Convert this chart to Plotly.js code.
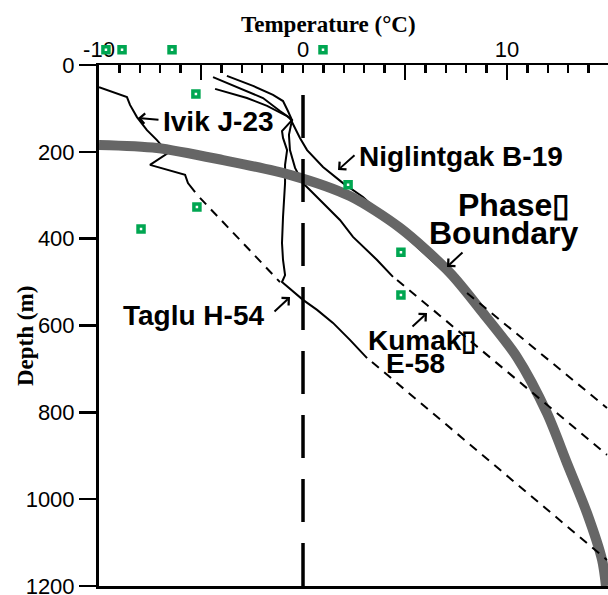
<!DOCTYPE html>
<html>
<head>
<meta charset="utf-8">
<script src="https://cdn.plot.ly/plotly-3.0.1.min.js"></script>
<style>html,body{margin:0;padding:0;background:#fff;}#chart{width:608px;height:595px;}</style>
</head>
<body>
<div id="chart"></div>
<script>
// ---------------- data (temperature °C, depth m) ----------------
const ivikT      = [-10.0, -8.63, -8.48, -8.14, -7.65, -7.16, -6.62, -7.50, -5.78, -5.64, -5.29];
const ivikD      = [51, 74, 92, 120, 150, 173, 203, 230, 253, 272, 293];
const ivikDashT  = [-5.05, -1.13];
const ivikDashD  = [306, 500];

const niglT      = [-4.41, -3.09, -1.96, -1.13, -0.64, -0.15, 0.20, 0.98, 1.96, 2.94, 8.04];
const niglD      = [28, 53, 76, 106, 122, 168, 196, 235, 272, 304, 525];
const niglDashT  = [8.04, 14.90];
const niglDashD  = [525, 790];

const kumakT     = [-3.73, -2.45, -1.47, -0.98, -0.74, -0.54, -0.69, -0.64, -0.39, 0.00, 0.34, 1.08, 1.81, 2.45, 3.63, 4.41];
const kumakD     = [25, 48, 69, 83, 106, 127, 161, 196, 237, 272, 288, 323, 357, 396, 449, 488];
const kumakDashT = [4.61, 14.90];
const kumakDashD = [495, 898];

const tagluT     = [-4.31, -2.75, -1.76, -0.78, -0.54, -1.03, -0.98, -0.78, -0.88, -0.88, -0.98, -1.03, -0.98, -0.88, -1.03, 0.00, 0.69, 1.47, 2.30, 3.14];
const tagluD     = [55, 76, 94, 118, 127, 152, 168, 196, 230, 272, 350, 410, 449, 484, 500, 541, 564, 594, 633, 675];
const tagluDashT = [3.38, 14.90];
const tagluDashD = [684, 1140];

const phaseT     = [-10, -7.16, -3.92, -0.64, 2.30, 4.75, 7.21, 8.82, 10.49, 11.96, 12.94, 13.92, 14.66, 14.85];
const phaseD     = [184, 191, 219, 253, 302, 375, 479, 571, 673, 802, 917, 1032, 1140, 1200];

const zeroT      = [0, 0];
const zeroD      = [69, 1200];

const sampleT    = [-9.66, -8.87, -6.42, 0.98, -5.25, -5.20, -7.94, 2.21, 4.80, 4.80];
const sampleD    = [-35, -35, -35, -35, 67, 327, 378, 276, 431, 530];

const xTickVals  = [-10,-9,-8,-7,-6,-5,-4,-3,-2,-1,0,1,2,3,4,5,6,7,8,9,10,11,12,13,14];
const xTickText  = xTickVals.map(v => (v === -10 || v === 0 || v === 10) ? String(v) : '');
const xMajorVals = [-5, 5, 10];
const yTickVals  = [0, 200, 400, 600, 800, 1000, 1200];

// ---------------- geometry & styling ----------------
const W = 608, H = 595, ML = 99, MR = 0, MT = 40, MB = 9;
const AXIS_TOP = 65;                       // pixel row of depth 0 / top axis
const PW = W - ML - MR, PH = H - MT - MB;  // full plotting box (includes strip above the axis)
const yDomTop = (H - MB - AXIS_TOP) / PH;  // fraction of box used by the depth axis
const mPerPx = 1200 / (H - MB - AXIS_TOP);
const y2Top = -(AXIS_TOP - MT) * mPerPx;   // depth value at the very top of the box
const PX = x => (x - ML) / PW;
const PY = y => 1 - (y - MT) / PH;
const sans = 'Liberation Sans, Arial, Helvetica, sans-serif';
const serif = 'Liberation Serif, Times New Roman, serif';
const dashed = '9px,7px';

const solid = (x, y) => ({x, y, type:'scatter', mode:'lines', line:{color:'#000', width:2}, hoverinfo:'skip', showlegend:false});
const dash  = (x, y) => ({x, y, type:'scatter', mode:'lines', line:{color:'#000', width:2, dash:dashed}, hoverinfo:'skip', showlegend:false});

const traces = [
  solid(ivikT, ivikD), solid(niglT, niglD), solid(kumakT, kumakD), solid(tagluT, tagluD),
  {x: phaseT, y: phaseD, type:'scatter', mode:'lines', line:{color:'#666666', width:10, shape:'spline', smoothing:0.8}, hoverinfo:'skip', showlegend:false},
  dash(ivikDashT, ivikDashD), dash(niglDashT, niglDashD), dash(kumakDashT, kumakDashD), dash(tagluDashT, tagluDashD),
  {x: zeroT, y: zeroD, type:'scatter', mode:'lines', line:{color:'#000', width:3.5, dash:'43px,21px'}, hoverinfo:'skip', showlegend:false},
  {x:[null], y:[null], xaxis:'x2', type:'scatter', mode:'lines', hoverinfo:'skip', showlegend:false},
  {x: sampleT, y: sampleD, yaxis:'y2', type:'scatter', mode:'markers', cliponaxis:false,
   marker:{symbol:'square', size:6, color:'#ffffff', line:{color:'#00a651', width:3.5}}, hoverinfo:'skip', showlegend:false}
];

const label = (text, x, y, size) => ({text, xref:'paper', yref:'paper', x:PX(x), y:PY(y), xanchor:'left', yanchor:'middle',
  showarrow:false, font:{family:sans, size, color:'#000', weight:'bold'}});
const arrow = (hx, hy, tx, ty) => ({text:'', xref:'paper', yref:'paper', x:PX(hx), y:PY(hy), ax:tx - hx, ay:ty - hy,
  showarrow:true, arrowhead:4, arrowsize:1, arrowwidth:2, arrowcolor:'#000'});

const annotations = [
  {text:'Temperature (°C)', xref:'paper', yref:'paper', x:PX(328), y:PY(24), xanchor:'center', yanchor:'middle', showarrow:false,
   font:{family:serif, size:23, color:'#000', weight:'bold'}},
  {text:'Depth (m)', xref:'paper', yref:'paper', x:PX(25), y:PY(336), xanchor:'center', yanchor:'middle', textangle:-90, showarrow:false,
   font:{family:serif, size:23, color:'#000', weight:'bold'}},
  label('Ivik J-23', 161, 121, 28),
  label('Niglintgak B-19', 357, 156, 28),
  label('Phase\u25AF', 456, 205, 32),
  label('Boundary', 427, 233, 32),
  label('Kumak\u25AF', 366, 340, 28),
  label('E-58', 384, 363, 28),
  label('Taglu H-54', 121, 315, 28),
  arrow(138, 118, 160, 120),
  arrow(338, 170, 356, 154),
  arrow(447, 267, 464, 251),
  arrow(427, 313, 411, 328),
  arrow(290, 297, 273, 313)
];

const layout = {
  width: W, height: H,
  margin: {l: ML, r: MR, t: MT, b: MB, pad: 0},
  paper_bgcolor: '#ffffff', plot_bgcolor: 'rgba(0,0,0,0)',
  showlegend: false,
  xaxis: {range: [-10, 14.95], side: 'top', anchor: 'y', showline: true, linewidth: 2.5, linecolor: '#000', mirror: true,
          ticks: 'inside', tickmode: 'array', tickvals: xTickVals, ticktext: xTickText, ticklen: 8, tickwidth: 2.5, tickcolor: '#000',
          tickfont: {family: sans, size: 22, color: '#000'}, ticklabelstandoff: -3,
          showgrid: false, zeroline: false, fixedrange: true},
  xaxis2: {range: [-10, 14.95], overlaying: 'x', side: 'top', anchor: 'y', showline: false, ticks: 'inside', tickmode: 'array',
           tickvals: xMajorVals, ticklen: 15, tickwidth: 2.5, tickcolor: '#000', showticklabels: false,
           showgrid: false, zeroline: false, fixedrange: true},
  yaxis: {domain: [0, yDomTop], range: [1200, 0], showline: true, linewidth: 3, linecolor: '#000', ticks: 'outside', tickmode: 'array',
          tickvals: yTickVals, ticklen: 17, tickwidth: 2.5, tickcolor: '#000', ticklabeloverflow: 'allow',
          tickfont: {family: sans, size: 22, color: '#000'}, showgrid: false, zeroline: false, fixedrange: true},
  yaxis2: {domain: [0, 1], range: [1200, y2Top], anchor: 'x', visible: false, showgrid: false, zeroline: false, fixedrange: true},
  annotations
};

Plotly.newPlot('chart', traces, layout, {staticPlot: true, displayModeBar: false});
</script>
</body>
</html>
